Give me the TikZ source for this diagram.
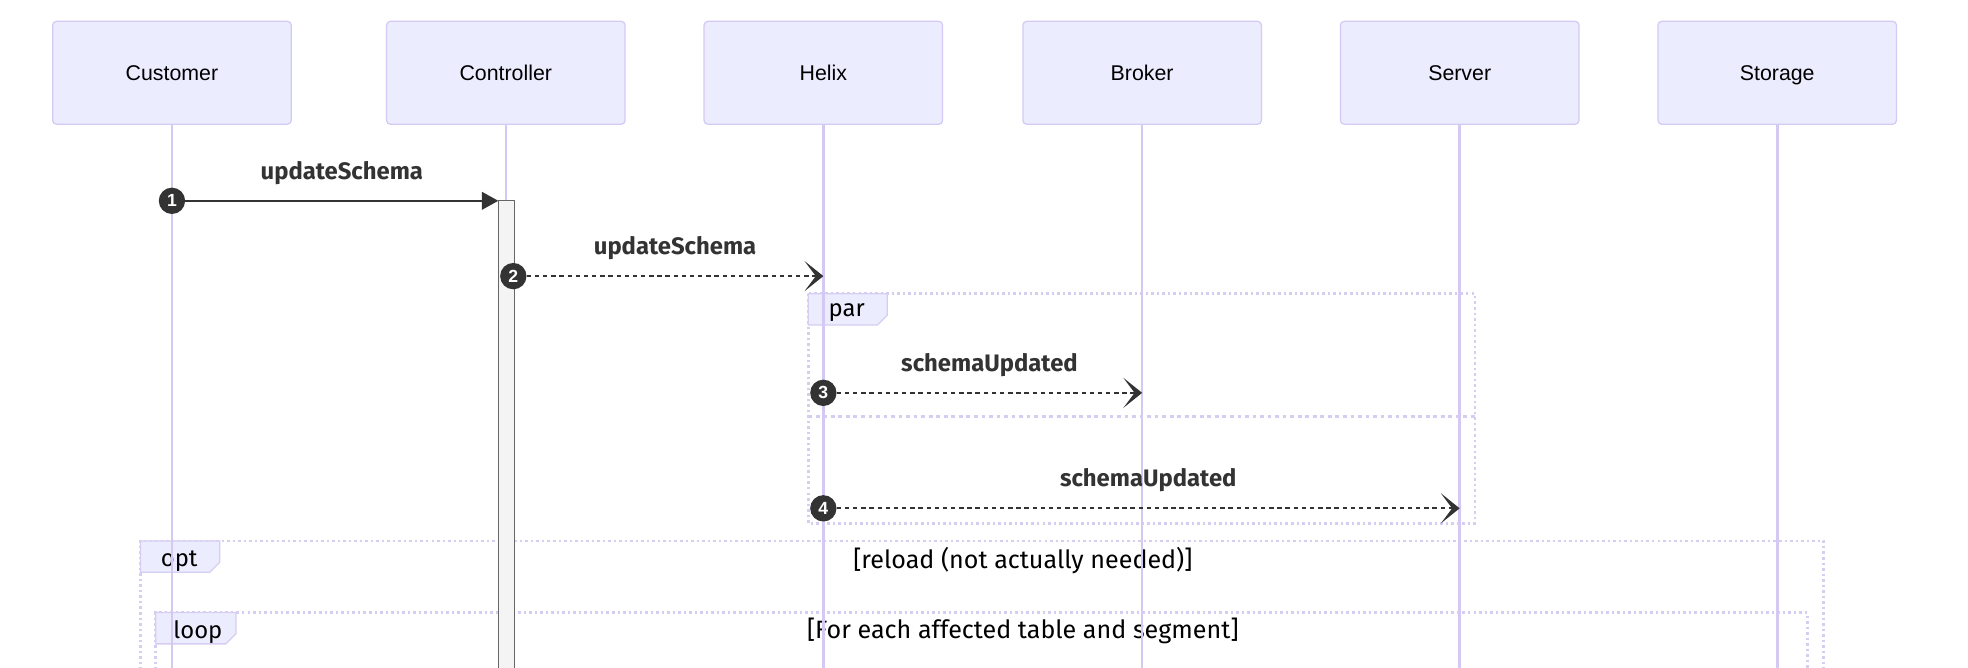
\documentclass[tikz,border=0pt]{standalone}
\usepackage{fontspec}
\setmainfont{Liberation Sans}
\newfontfamily\msgfont{Fira Sans}
\usetikzlibrary{arrows.meta,positioning}
\definecolor{actorfill}{HTML}{ECECFF}
\definecolor{actorline}{HTML}{D4CAF3}
\definecolor{lifecol}{HTML}{D3C9F2}
\definecolor{framecol}{HTML}{D6CDF3}
\definecolor{msgcol}{HTML}{333333}
\definecolor{actfill}{HTML}{F4F4F4}
\definecolor{actdraw}{HTML}{666666}
\tikzset{
	actor/.style={draw=actorline, fill=actorfill, line width=1pt, rounded corners=3pt,
		minimum width=190pt, minimum height=82pt, text height=12pt, text depth=0pt,
		font=\fontsize{17}{20}\selectfont},
	lifeln/.style={draw=lifecol, line width=2pt},
	msg/.style={draw=msgcol, line width=1.6pt},
	reply/.style={msg, dash pattern=on 3.5pt off 3pt, -{Stealth[length=15pt,width=24pt,inset=9pt]}},
	call/.style={msg, -{Triangle[length=13pt,width=14pt]}},
	nr/.style={circle, fill=msgcol, inner sep=0pt, minimum size=21pt, text=white,
		font=\fontsize{14}{14}\selectfont\bfseries},
	lbl/.style={font=\msgfont\bfseries\fontsize{19}{21}\selectfont, text=msgcol},
	frame/.style={draw=framecol, line width=2pt, dash pattern=on 2pt off 2.4pt},
	tab/.style={draw=framecol, fill=actorfill, line width=1pt},
	tablbl/.style={font=\msgfont\fontsize{19}{21}\selectfont, anchor=west, inner sep=0pt},
	cond/.style={font=\msgfont\fontsize{20}{22}\selectfont, inner sep=0pt},
}
\begin{document}
\begin{tikzpicture}[x=1pt, y=-1pt]
\useasboundingbox (0,0) rectangle (1568,532);
	%% Teilnehmer
	\node[actor] (customer) at (137,58) {Customer};
	\node[actor] (controller) at (403,58) {Controller};
	\node[actor] (helix) at (656,58) {Helix};
	\node[actor] (broker) at (910,58) {Broker};
	\node[actor] (server) at (1163,58) {Server};
	\node[actor] (storage) at (1416,58) {Storage};

	%% Rahmen
	\draw[frame] (112,560) -- (112,431) -- (1453,431) -- (1453,560);
	\draw[frame] (124,560) -- (124,488) -- (1440,488) -- (1440,560);
	\draw[frame] (644,234) rectangle (1175,417);
	\draw[frame, dash pattern=on 3pt off 3pt] (644,332) -- (1175,332);
	\filldraw[tab] (644,234) -- ++(63,0) -- ++(0,17) -- ++(-8,8) -- ++(-55,0) -- cycle;
	\filldraw[tab] (112,431) -- ++(63,0) -- ++(0,17) -- ++(-8,8) -- ++(-55,0) -- cycle;
	\filldraw[tab] (124,488) -- ++(64,0) -- ++(0,17) -- ++(-8,8) -- ++(-56,0) -- cycle;
	\node[tablbl] (par) at (660,249) {par};
	\node[tablbl] (opt) at (128,447) {opt};
	\node[tablbl] (loop) at (138,504) {loop};
	\node[cond] (reload) at (815,447) {[reload (not actually needed)]};
	\node[cond] (each) at (815,503) {[For each affected table and segment]};

	%% Lebenslinien
	\foreach \p in {customer, controller, helix, broker, server, storage} {
		\coordinate (\p-end) at (\p.center |- 0,560);
		\draw[lifeln] (\p.south) -- (\p-end);
	}
	\filldraw[fill=actfill, draw=actdraw, line width=1pt] (397,160) rectangle (410,560);

	%% Nachrichten
	\coordinate (m1) at (397,160);
	\coordinate (m2) at (656,220);
	\coordinate (m3) at (910,313);
	\coordinate (m4) at (1163,405);
	\node[nr] (n1) at (137,160) {1};
	\node[nr] (n2) at (409,220) {2};
	\node[nr] (n3) at (656,313) {3};
	\node[nr] (n4) at (656,405) {4};
	\draw[call] (n1) -- (m1) node[lbl, midway, above=9pt] {updateSchema};
	\draw[reply] (n2) -- (m2) node[lbl, midway, above=9pt] {updateSchema};
	\draw[reply] (n3) -- (m3) node[lbl, midway, above=9pt] {schemaUpdated};
	\draw[reply] (n4) -- (m4) node[lbl, midway, above=9pt] {schemaUpdated};
\end{tikzpicture}
\end{document}
